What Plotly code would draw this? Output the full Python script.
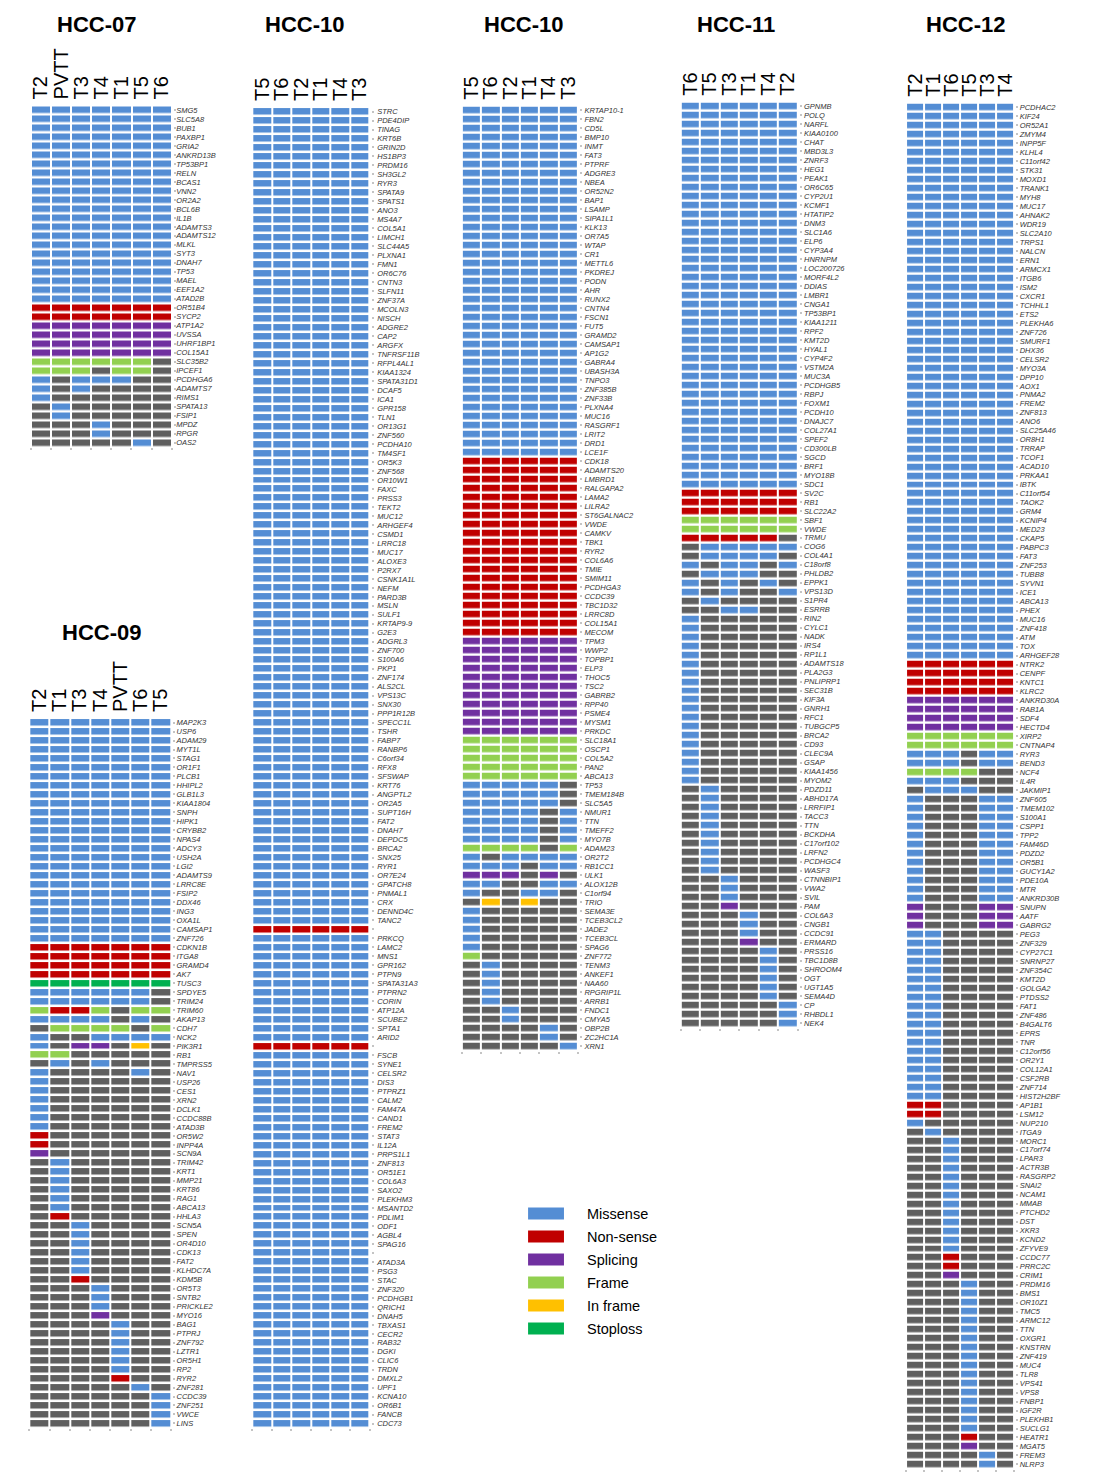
import plotly.graph_objects as go

# page has an 8px body margin; figure is sized to fit inside the window
OFF = 8
W, H = 1096 - 2 * OFF, 1484 - 2 * OFF
FONT = "Liberation Sans, Arial, sans-serif"

# ---------------- data ----------------
STATUS_CODES = ".MNSFIX"   # none, Missense, Non-sense, Splicing, Frame, In frame, Stoploss
LEGEND_LABELS = ["Missense", "Non-sense", "Splicing", "Frame", "In frame", "Stoploss"]
LEGEND_STATUS = ["M", "N", "S", "F", "I", "X"]
PANEL_TITLES = ["HCC-07", "HCC-09", "HCC-10", "HCC-10", "HCC-11", "HCC-12"]

HCC07_samples = ["T2", "PVTT", "T3", "T4", "T1", "T5", "T6"]
HCC07_genes = ["SMG5", "SLC5A8", "BUB1", "PAXBP1", "GRIA2", "ANKRD13B", "TP53BP1", "RELN", "BCAS1", "VNN2",
               "OR2A2", "BCL6B", "IL1B", "ADAMTS3", "ADAMTS12", "MLKL", "SYT3", "DNAH7", "TP53", "MAEL",
               "EEF1A2", "ATAD2B", "OR51B4", "SYCP2", "ATP1A2", "UVSSA", "UHRF1BP1", "COL15A1", "SLC35B2", "IPCEF1",
               "PCDHGA6", "ADAMTS7", "RIMS1", "SPATA13", "FSIP1", "MPDZ", "RPGR", "OAS2"]
HCC07_status = ["MMMMMMM", "MMMMMMM", "MMMMMMM", "MMMMMMM", "MMMMMMM", "MMMMMMM", "MMMMMMM", "MMMMMMM", "MMMMMMM", "MMMMMMM",
                "MMMMMMM", "MMMMMMM", "MMMMMMM", "MMMMMMM", "MMMMMMM", "MMMMMMM", "MMMMMMM", "MMMMMMM", "MMMMMMM", "MMMMMMM",
                "MMMMMMM", "MMMMMMM", "NNNNNNN", "NNNNNNN", "SSSSSSS", "SSSSSSS", "SSSSSSS", "SSSSSSS", "FFFFFF.", "FFF.FF.",
                "M.MMM..", "M.M....", "M......", ".M.....", ".M.....", "...M...", "...M...", ".....M."]

HCC09_samples = ["T2", "T1", "T3", "T4", "PVTT", "T6", "T5"]
HCC09_genes = ["MAP2K3", "USP6", "ADAM29", "MYT1L", "STAG1", "OR1F1", "PLCB1", "HHIPL2", "GLB1L3", "KIAA1804",
               "SNPH", "HIPK1", "CRYBB2", "NPAS4", "ADCY3", "USH2A", "LGI2", "ADAMTS9", "LRRC8E", "FSIP2",
               "DDX46", "ING3", "OXA1L", "CAMSAP1", "ZNF726", "CDKN1B", "ITGA8", "GRAMD4", "AK7", "TUSC3",
               "SPDYE5", "TRIM24", "TRIM60", "AKAP13", "CDH7", "NCK2", "PIK3R1", "RB1", "TMPRSS5", "NAV1",
               "USP26", "CES1", "XRN2", "DCLK1", "CCDC88B", "ATAD3B", "OR5W2", "INPP4A", "SCN9A", "TRIM42",
               "KRT1", "MMP21", "KRT86", "RAG1", "ABCA13", "HHLA3", "SCN5A", "SPEN", "OR4D10", "CDK13",
               "FAT2", "KLHDC7A", "KDM5B", "OR5T3", "SNTB2", "PRICKLE2", "MYO16", "BAG1", "PTPRJ", "ZNF792",
               "LZTR1", "OR5H1", "RP2", "RYR2", "ZNF281", "CCDC39", "ZNF251", "VWCE", "LINS"]
HCC09_status = ["MMMMMMM", "MMMMMMM", "MMMMMMM", "MMMMMMM", "MMMMMMM", "MMMMMMM", "MMMMMMM", "MMMMMMM", "MMMMMMM", "MMMMMMM",
                "MMMMMMM", "MMMMMMM", "MMMMMMM", "MMMMMMM", "MMMMMMM", "MMMMMMM", "MMMMMMM", "MMMMMMM", "MMMMMMM", "MMMMMMM",
                "MMMMMMM", "MMMMMMM", "MMMMMMM", "MMMMMMM", "MMMMMMM", "NNNNNNN", "NNNNNNN", "NNNNNNN", "NNNNNNN", "XXXXXXX",
                "MMMMMM.", "MMMMMM.", "FNNF.FF", "MMMM.M.", ".FFFF.F", "M..MMMM", "M.SS.I.", "FF.....", ".M.M...", "M....M.",
                "M......", "M......", "M......", "M......", "M......", "M......", "N......", "N......", "S......", ".M.....",
                ".M.....", ".M.....", ".M.....", ".M.....", ".M.....", ".N.....", "..M....", "..M....", "..M....", "..M....",
                "..M....", "..M....", "..N....", "...M...", "...M...", "...M...", "...S...", "....M..", "....M..", "....M..",
                "....M..", "....M..", "....M..", "....N..", ".....M.", "......M", "......M", "......M", "......M"]

HCC10A_samples = ["T5", "T6", "T2", "T1", "T4", "T3"]
HCC10A_genes = ["STRC", "PDE4DIP", "TINAG", "KRT6B", "GRIN2D", "HS1BP3", "PRDM16", "SH3GL2", "RYR3", "SPATA9",
                "SPATS1", "ANO3", "MS4A7", "COL5A1", "LIMCH1", "SLC44A5", "PLXNA1", "FMN1", "OR6C76", "CNTN3",
                "SLFN11", "ZNF37A", "MCOLN3", "NISCH", "ADGRE2", "CAP2", "ARGFX", "TNFRSF11B", "RFPL4AL1", "KIAA1324",
                "SPATA31D1", "DCAF5", "ICA1", "GPR158", "TLN1", "OR13G1", "ZNF560", "PCDHA10", "TM4SF1", "OR5K3",
                "ZNF568", "OR10W1", "FAXC", "PRSS3", "TEKT2", "MUC12", "ARHGEF4", "CSMD1", "LRRC18", "MUC17",
                "ALOXE3", "P2RX7", "CSNK1A1L", "NEFM", "PARD3B", "MSLN", "SULF1", "KRTAP9-9", "G2E3", "ADGRL3",
                "ZNF700", "S100A6", "PKP1", "ZNF174", "ALS2CL", "VPS13C", "SNX30", "PPP1R12B", "SPECC1L", "TSHR",
                "FABP7", "RANBP6", "C6orf34", "RFX8", "SFSWAP", "KRT76", "ANGPTL2", "OR2A5", "SUPT16H", "FAT2",
                "DNAH7", "DEPDC5", "BRCA2", "SNX25", "RYR1", "OR7E24", "GPATCH8", "PNMAL1", "CRX", "DENND4C",
                "TANC2", "", "PRKCQ", "LAMC2", "MNS1", "GPR162", "PTPN9", "SPATA31A3", "PTPRN2", "CORIN",
                "ATP12A", "SCUBE2", "SPTA1", "ARID2", "", "FSCB", "SYNE1", "CELSR2", "DIS3", "PTPRZ1",
                "CALM2", "FAM47A", "CAND1", "FREM2", "STAT3", "IL12A", "PRPS1L1", "ZNF813", "OR51E1", "COL6A3",
                "SAXO2", "PLEKHM3", "MSANTD2", "PDLIM1", "ODF1", "AGBL4", "SPAG16", "", "ATAD3A", "PSG3",
                "STAC", "ZNF320", "PCDHGB1", "QRICH1", "DNAH5", "TBXAS1", "CECR2", "RAB32", "DGKI", "CLIC6",
                "TRDN", "DMXL2", "UPF1", "KCNA10", "OR6B1", "FANCB", "CDC73"]
HCC10A_status = ["MMMMMM", "MMMMMM", "MMMMMM", "MMMMMM", "MMMMMM", "MMMMMM", "MMMMMM", "MMMMMM", "MMMMMM", "MMMMMM",
                 "MMMMMM", "MMMMMM", "MMMMMM", "MMMMMM", "MMMMMM", "MMMMMM", "MMMMMM", "MMMMMM", "MMMMMM", "MMMMMM",
                 "MMMMMM", "MMMMMM", "MMMMMM", "MMMMMM", "MMMMMM", "MMMMMM", "MMMMMM", "MMMMMM", "MMMMMM", "MMMMMM",
                 "MMMMMM", "MMMMMM", "MMMMMM", "MMMMMM", "MMMMMM", "MMMMMM", "MMMMMM", "MMMMMM", "MMMMMM", "MMMMMM",
                 "MMMMMM", "MMMMMM", "MMMMMM", "MMMMMM", "MMMMMM", "MMMMMM", "MMMMMM", "MMMMMM", "MMMMMM", "MMMMMM",
                 "MMMMMM", "MMMMMM", "MMMMMM", "MMMMMM", "MMMMMM", "MMMMMM", "MMMMMM", "MMMMMM", "MMMMMM", "MMMMMM",
                 "MMMMMM", "MMMMMM", "MMMMMM", "MMMMMM", "MMMMMM", "MMMMMM", "MMMMMM", "MMMMMM", "MMMMMM", "MMMMMM",
                 "MMMMMM", "MMMMMM", "MMMMMM", "MMMMMM", "MMMMMM", "MMMMMM", "MMMMMM", "MMMMMM", "MMMMMM", "MMMMMM",
                 "MMMMMM", "MMMMMM", "MMMMMM", "MMMMMM", "MMMMMM", "MMMMMM", "MMMMMM", "MMMMMM", "MMMMMM", "MMMMMM",
                 "MMMMMM", "NNNNNN", "MMMMMM", "MMMMMM", "MMMMMM", "MMMMMM", "MMMMMM", "MMMMMM", "MMMMMM", "MMMMMM",
                 "MMMMMM", "MMMMMM", "MMMMMM", "MMMMMM", "NNNNNN", "MMMMMM", "MMMMMM", "MMMMMM", "MMMMMM", "MMMMMM",
                 "MMMMMM", "MMMMMM", "MMMMMM", "MMMMMM", "MMMMMM", "MMMMMM", "MMMMMM", "MMMMMM", "MMMMMM", "MMMMMM",
                 "MMMMMM", "MMMMMM", "MMMMMM", "MMMMMM", "MMMMMM", "MMMMMM", "MMMMMM", "MMMMMM", "MMMMMM", "MMMMMM",
                 "MMMMMM", "MMMMMM", "MMMMMM", "MMMMMM", "MMMMMM", "MMMMMM", "MMMMMM", "MMMMMM", "MMMMMM", "MMMMMM",
                 "MMMMMM", "MMMMMM", "MMMMMM", "MMMMMM", "MMMMMM", "MMMMMM", "MMMMMM"]

HCC10B_samples = ["T5", "T6", "T2", "T1", "T4", "T3"]
HCC10B_genes = ["KRTAP10-1", "FBN2", "CD5L", "BMP10", "INMT", "FAT3", "PTPRF", "ADGRE3", "NBEA", "OR52N2",
                "BAP1", "LSAMP", "SIPA1L1", "KLK13", "OR7A5", "WTAP", "CR1", "METTL6", "PKDREJ", "PODN",
                "AHR", "RUNX2", "CNTN4", "FSCN1", "FUT5", "GRAMD2", "CAMSAP1", "AP1G2", "GABRA4", "UBASH3A",
                "TNPO3", "ZNF385B", "ZNF33B", "PLXNA4", "MUC16", "RASGRF1", "LRIT2", "DRD1", "LCE1F", "CDK18",
                "ADAMTS20", "LMBRD1", "RALGAPA2", "LAMA2", "LILRA2", "ST6GALNAC2", "VWDE", "CAMKV", "TBK1", "RYR2",
                "COL6A6", "TMIE", "SMIM11", "PCDHGA3", "CCDC39", "TBC1D32", "LRRC8D", "COL15A1", "MECOM", "TPM3",
                "WWP2", "TOPBP1", "ELP3", "THOC5", "TSC2", "GABRB2", "RPP40", "PSME4", "MYSM1", "PRKDC",
                "SLC18A1", "OSCP1", "COL5A2", "PAN2", "ABCA13", "TP53", "TMEM184B", "SLC5A5", "NMUR1", "TTN",
                "TMEFF2", "MYO7B", "ADAM23", "OR2T2", "RB1CC1", "ULK1", "ALOX12B", "C1orf94", "TRIO", "SEMA3E",
                "TCEB3CL2", "JADE2", "TCEB3CL", "SPAG6", "ZNF772", "TENM3", "ANKEF1", "NAA60", "RPGRIP1L", "ARRB1",
                "FNDC1", "CMYA5", "OBP2B", "ZC2HC1A", "XRN1"]
HCC10B_status = ["MMMMMM", "MMMMMM", "MMMMMM", "MMMMMM", "MMMMMM", "MMMMMM", "MMMMMM", "MMMMMM", "MMMMMM", "MMMMMM",
                 "MMMMMM", "MMMMMM", "MMMMMM", "MMMMMM", "MMMMMM", "MMMMMM", "MMMMMM", "MMMMMM", "MMMMMM", "MMMMMM",
                 "MMMMMM", "MMMMMM", "MMMMMM", "MMMMMM", "MMMMMM", "MMMMMM", "MMMMMM", "MMMMMM", "MMMMMM", "MMMMMM",
                 "MMMMMM", "MMMMMM", "MMMMMM", "MMMMMM", "MMMMMM", "MMMMMM", "MMMMMM", "MMMMMM", "MMMMMM", "NNNNNN",
                 "NNNNNN", "NNNNNN", "NNNNNN", "NNNNNN", "NNNNNN", "NNNNNN", "NNNNNN", "NNNNNN", "NNNNNN", "NNNNNN",
                 "NNNNNN", "NNNNNN", "NNNNNN", "NNNNNN", "NNNNNN", "NNNNNN", "NNNNNN", "NNNNNN", "NNNNNN", "SSSSSS",
                 "SSSSSS", "SSSSSS", "SSSSSS", "SSSSSS", "SSSSSS", "SSSSSS", "SSSSSS", "SSSSSS", "SSSSSS", "SSSSSS",
                 "FFFFFF", "FFFFFF", "FFFFFF", "FFFFFF", "FFFFFF", "MMMMM.", "MMMMM.", "MMMMM.", "MMMM.M", "MMMM.M",
                 "MMMM.M", "MMMM.M", "FFFF.F", "M.MMMM", "MMM.MM", "SSS.S.", "MM..MM", "M..MM.", ".I.I..", "M.....",
                 "M.....", "M.....", "M.....", "M.....", "F.....", ".M....", ".M....", ".M....", ".M....", ".M....",
                 "..M...", "..M...", "....M.", "....M.", ".....M"]

HCC11_samples = ["T6", "T5", "T3", "T1", "T4", "T2"]
HCC11_genes = ["GPNMB", "POLQ", "NARFL", "KIAA0100", "CHAT", "MBD3L3", "ZNRF3", "HEG1", "PEAK1", "OR6C65",
               "CYP2U1", "KCMF1", "HTATIP2", "DNM3", "SLC1A6", "ELP6", "CYP3A4", "HNRNPM", "LOC200726", "MORF4L2",
               "DDIAS", "LMBR1", "CNGA1", "TP53BP1", "KIAA1211", "RPF2", "KMT2D", "HYAL1", "CYP4F2", "VSTM2A",
               "MUC3A", "PCDHGB5", "RBPJ", "FOXM1", "PCDH10", "DNAJC7", "COL27A1", "SPEF2", "CD300LB", "SGCD",
               "BRF1", "MYO18B", "SDC1", "SV2C", "RB1", "SLC22A2", "SBF1", "VWDE", "TRMU", "COG6",
               "COL4A1", "C18orf8", "PHLDB2", "EPPK1", "VPS13D", "S1PR4", "ESRRB", "RIN2", "CYLC1", "NADK",
               "IRS4", "RP1L1", "ADAMTS18", "PLA2G3", "PNLIPRP1", "SEC31B", "KIF3A", "GNRH1", "RFC1", "TUBGCP5",
               "BRCA2", "CD93", "CLEC9A", "GSAP", "KIAA1456", "MYOM2", "PDZD11", "ABHD17A", "LRRFIP1", "TACC3",
               "TTN", "BCKDHA", "C17orf102", "LRFN2", "PCDHGC4", "WASF3", "CTNNBIP1", "VWA2", "SVIL", "PAM",
               "COL6A3", "CNGB1", "CCDC91", "ERMARD", "PRSS16", "TBC1D8B", "SHROOM4", "OGT", "UGT1A5", "SEMA4D",
               "CP", "RHBDL1", "NEK4"]
HCC11_status = ["MMMMMM", "MMMMMM", "MMMMMM", "MMMMMM", "MMMMMM", "MMMMMM", "MMMMMM", "MMMMMM", "MMMMMM", "MMMMMM",
                "MMMMMM", "MMMMMM", "MMMMMM", "MMMMMM", "MMMMMM", "MMMMMM", "MMMMMM", "MMMMMM", "MMMMMM", "MMMMMM",
                "MMMMMM", "MMMMMM", "MMMMMM", "MMMMMM", "MMMMMM", "MMMMMM", "MMMMMM", "MMMMMM", "MMMMMM", "MMMMMM",
                "MMMMMM", "MMMMMM", "MMMMMM", "MMMMMM", "MMMMMM", "MMMMMM", "MMMMMM", "MMMMMM", "MMMMMM", "MMMMMM",
                "MMMMMM", "MMMMMM", "MMMMMM", "NNNNNN", "NNNNNN", "NNNNNN", "FFFFFF", "FFFFFF", "NNNNN.", ".MMMMM",
                ".MMMM.", "M.MM.M", ".MMM..", "M.M.M.", "M.M..M", ".M....", "..MM..", "M.....", "M.....", "M.....",
                "M.....", "M.....", "M.....", "M.....", "M.....", "M.....", "M.....", "M.....", "M.....", "M.....",
                "M.....", "M.....", "M.....", "M.....", "M.....", "M.....", ".M....", ".M....", ".M....", ".M....",
                ".M....", ".M....", ".M....", ".M....", ".M....", ".M....", "..M...", "..M...", "..M...", "..S...",
                "...M..", "...M..", "...M..", "...S..", "....M.", "....M.", "....M.", "....M.", "....M.", "....M.",
                ".....M", ".....M", ".....M"]

HCC12_samples = ["T2", "T1", "T6", "T5", "T3", "T4"]
HCC12_genes = ["PCDHAC2", "KIF24", "OR52A1", "ZMYM4", "INPP5F", "KLHL4", "C11orf42", "STK31", "MOXD1", "TRANK1",
               "MYH8", "MUC17", "AHNAK2", "WDR19", "SLC2A10", "TRPS1", "NALCN", "ERN1", "ARMCX1", "ITGB6",
               "ISM2", "CXCR1", "TCHHL1", "ETS2", "PLEKHA6", "ZNF726", "SMURF1", "DHX36", "CELSR2", "MYO3A",
               "DPP10", "AOX1", "PNMA2", "FREM2", "ZNF813", "ANO6", "SLC25A46", "OR8H1", "TRRAP", "TCOF1",
               "ACAD10", "PRKAA1", "IBTK", "C11orf54", "TAOK2", "GRM4", "KCNIP4", "MED23", "CKAP5", "PABPC3",
               "FAT3", "ZNF253", "TUBB8", "SYVN1", "ICE1", "ABCA13", "PHEX", "MUC16", "ZNF418", "ATM",
               "TOX", "ARHGEF28", "NTRK2", "CENPF", "KNTC1", "KLRC2", "ANKRD30A", "RAB1A", "SDF4", "HECTD4",
               "XIRP2", "CNTNAP4", "RYR3", "BEND3", "NCF4", "IL4R", "JAKMIP1", "ZNF605", "TMEM102", "S100A1",
               "CSPP1", "TPP2", "FAM46D", "PDZD2", "OR5B1", "GUCY1A2", "PDE10A", "MTR", "ANKRD30B", "SNUPN",
               "AATF", "GABRG2", "PEG3", "ZNF329", "CYP27C1", "SNRNP27", "ZNF354C", "KMT2D", "GOLGA2", "PTDSS2",
               "FAT1", "ZNF486", "B4GALT6", "EPRS", "TNR", "C12orf56", "OR2Y1", "COL12A1", "CSF2RB", "ZNF714",
               "HIST2H2BF", "AP1B1", "LSM12", "NUP210", "ITGA9", "MORC1", "C17orf74", "LPAR3", "ACTR3B", "RASGRP2",
               "SNAI2", "NCAM1", "MMAB", "PTCHD2", "DST", "XKR3", "KCND2", "ZFYVE9", "CCDC77", "PRRC2C",
               "CRIM1", "PRDM16", "BMS1", "OR10Z1", "TMC5", "ARMC12", "TTN", "OXGR1", "KNSTRN", "ZNF419",
               "MUC4", "TLR8", "VPS41", "VPS8", "FNBP1", "IGF2R", "PLEKHB1", "SUCLG1", "HEATR1", "MGAT5",
               "FREM3", "NLRP3"]
HCC12_status = ["MMMMMM", "MMMMMM", "MMMMMM", "MMMMMM", "MMMMMM", "MMMMMM", "MMMMMM", "MMMMMM", "MMMMMM", "MMMMMM",
                "MMMMMM", "MMMMMM", "MMMMMM", "MMMMMM", "MMMMMM", "MMMMMM", "MMMMMM", "MMMMMM", "MMMMMM", "MMMMMM",
                "MMMMMM", "MMMMMM", "MMMMMM", "MMMMMM", "MMMMMM", "MMMMMM", "MMMMMM", "MMMMMM", "MMMMMM", "MMMMMM",
                "MMMMMM", "MMMMMM", "MMMMMM", "MMMMMM", "MMMMMM", "MMMMMM", "MMMMMM", "MMMMMM", "MMMMMM", "MMMMMM",
                "MMMMMM", "MMMMMM", "MMMMMM", "MMMMMM", "MMMMMM", "MMMMMM", "MMMMMM", "MMMMMM", "MMMMMM", "MMMMMM",
                "MMMMMM", "MMMMMM", "MMMMMM", "MMMMMM", "MMMMMM", "MMMMMM", "MMMMMM", "MMMMMM", "MMMMMM", "MMMMMM",
                "MMMMMM", "MMMMMM", "NNNNNN", "NNNNNN", "NNNNNN", "NNNNNN", "SSSSSS", "SSSSSS", "SSSSSS", "SSSSSS",
                "FFFFFF", "FFFFFF", "MMM.MM", "MMM.MM", "FFFF..", "MMM...", ".MMM..", "M...MM", "M...MM", "M...MM",
                "M...MM", "M...MM", "M...MM", "M...MM", "M...MM", "M...MM", "M...MM", "M...MM", "M...MM", "S...SS",
                "S...SS", "S...SS", "MM....", "MM....", "MM....", "MM....", "MM....", "MM....", "MM....", "MM....",
                "MM....", "MM....", "MM....", "MM....", "MM....", "MM....", "MM....", "MM....", "MM....", "MM....",
                "MM....", "NN....", "NN....", "M.....", ".M....", "..M...", "..M...", "..M...", "..M...", "..M...",
                "..M...", "..M...", "..M...", "..M...", "..M...", "..M...", "..M...", "..M...", "..N...", "..N...",
                "..S...", "...M..", "...M..", "...M..", "...M..", "...M..", "...M..", "...M..", "...M..", "...M..",
                "...M..", "...M..", "...M..", "...M..", "...M..", "...M..", "...M..", "...M..", "...N..", "...S..",
                "....M.", "....M."]

PANEL_DATA = [
    (HCC07_samples, HCC07_genes, HCC07_status),
    (HCC09_samples, HCC09_genes, HCC09_status),
    (HCC10A_samples, HCC10A_genes, HCC10A_status),
    (HCC10B_samples, HCC10B_genes, HCC10B_status),
    (HCC11_samples, HCC11_genes, HCC11_status),
    (HCC12_samples, HCC12_genes, HCC12_status),
]

# ---------------- styling / layout (screen pixels) ----------------
COLORS = ["#5f5f5f", "#548dd4", "#c00000", "#7030a0", "#92d050", "#ffc000", "#00b050"]
GEOM = [
    dict(x0=30.0, x1=169.0, top=106.7, bottom=446.0, tx=95, ty=25, lab=-1),
    dict(x0=28.3, x1=168.3, top=719.3, bottom=1426.7, tx=100, ty=632, lab=0),
    dict(x0=251.7, x1=367.3, top=108.3, bottom=1427.0, tx=303, ty=25, lab=2),
    dict(x0=461.7, x1=576.0, top=107.0, bottom=1049.3, tx=522, ty=25, lab=1),
    dict(x0=681.0, x1=796.0, top=103.0, bottom=1026.7, tx=735, ty=25, lab=1),
    dict(x0=906.7, x1=1013.0, top=104.0, bottom=1467.7, tx=965, ty=25, lab=0),
]
XGAP, YGAP, EXT = 2, 2.5, 1.0
TICKCOL = "#c4c4c4"


def px_x(v):
    return (v - OFF) / W


def px_y(v):
    return 1 - (v - OFF) / H


n = len(COLORS) - 1
colorscale = []
for i, c in enumerate(COLORS):
    colorscale += [[max(0.0, (i - 0.5) / n), c], [min(1.0, (i + 0.5) / n), c]]

fig = go.Figure()
layout = dict(width=W, height=H, margin=dict(l=0, r=0, t=0, b=0),
              paper_bgcolor="white", plot_bgcolor="white", showlegend=False,
              annotations=[])

for i, ((samples, genes, status), g, title) in enumerate(zip(PANEL_DATA, GEOM, PANEL_TITLES)):
    assert len(genes) == len(status), (title, len(genes), len(status))
    k = i + 1
    nc, nr = len(samples), len(genes)
    L = g["x0"] - XGAP / 2
    R = g["x1"] + XGAP / 2
    colpx = (R - L) / nc
    xr = [-0.5, nc - 0.5 + EXT / colpx]
    T = g["top"] - YGAP / 2
    B = g["bottom"] + YGAP / 2
    z = [[STATUS_CODES.index(ch) for ch in row] for row in status]
    fig.add_trace(go.Heatmap(z=z, x=list(range(nc)), y=list(range(nr)), colorscale=colorscale,
                             zmin=0, zmax=n, showscale=False, xgap=XGAP, ygap=YGAP,
                             xaxis=f"x{k}", yaxis=f"y{k}", hoverinfo="skip"))
    layout[f"xaxis{k}"] = dict(domain=[px_x(L), px_x(R + EXT)], range=xr, anchor=f"y{k}", side="top",
                               tickmode="array", tickvals=list(range(nc)), ticktext=samples,
                               tickangle=-90, tickfont=dict(size=20, color="black", family=FONT),
                               showgrid=False, zeroline=False, showline=False, ticks="",
                               ticklabelstandoff=5)
    layout[f"yaxis{k}"] = dict(domain=[px_y(B), px_y(T)], range=[nr - 0.5, -0.5], anchor=f"x{k}",
                               side="right", tickmode="array", tickvals=list(range(nr)), ticktext=genes,
                               tickfont=dict(size=7.5, color="#333333", family=FONT, style="italic"),
                               ticks="outside", ticklen=2, tickwidth=2, tickcolor=TICKCOL,
                               showgrid=False, zeroline=False, showline=False,
                               ticklabelstandoff=g["lab"])
    # bottom dotted ticks at column boundaries
    kb = 20 + k
    layout[f"xaxis{kb}"] = dict(overlaying=f"x{k}", anchor=f"y{k}", side="bottom", range=xr,
                                tickmode="array", tickvals=[j - 0.5 for j in range(nc + 1)],
                                ticks="outside", ticklen=2, tickwidth=2, tickcolor=TICKCOL,
                                showticklabels=False, showgrid=False, zeroline=False, showline=False)
    fig.add_trace(go.Scatter(x=[None], y=[None], xaxis=f"x{kb}", yaxis=f"y{k}",
                             showlegend=False, hoverinfo="skip", mode="markers"))
    layout["annotations"].append(dict(x=px_x(g["tx"]), y=px_y(g["ty"]), xref="paper", yref="paper",
                                      text=f"<b>{title}</b>", showarrow=False,
                                      font=dict(size=22, color="black", family=FONT),
                                      xanchor="center", yanchor="middle"))

# legend as a small heatmap
kl = 7
fig.add_trace(go.Heatmap(z=[[STATUS_CODES.index(s)] for s in LEGEND_STATUS], x=[0],
                         y=list(range(len(LEGEND_STATUS))), colorscale=colorscale, zmin=0, zmax=n,
                         showscale=False, ygap=11, xaxis=f"x{kl}", yaxis=f"y{kl}", hoverinfo="skip"))
layout[f"xaxis{kl}"] = dict(domain=[px_x(527), px_x(563)], range=[-0.5, 0.5], anchor=f"y{kl}", visible=False)
layout[f"yaxis{kl}"] = dict(domain=[px_y(1340.5), px_y(1202.5)], range=[len(LEGEND_STATUS) - 0.5, -0.5],
                            anchor=f"x{kl}", side="right", tickmode="array",
                            tickvals=list(range(len(LEGEND_STATUS))), ticktext=LEGEND_LABELS,
                            tickfont=dict(size=14.5, color="black", family=FONT), ticks="",
                            showgrid=False, zeroline=False, showline=False, ticklabelstandoff=22)

fig.update_layout(**layout)
fig.write_html("out.html")
